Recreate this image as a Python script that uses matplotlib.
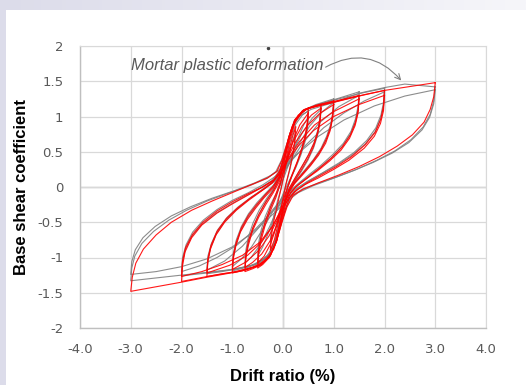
import numpy as np
import matplotlib
matplotlib.use("Agg")
import matplotlib.pyplot as plt
from matplotlib.patches import Rectangle

# ─── DATA (drift ratio %, base shear coefficient) ─────────────────────────────
xticks = [-4, -3, -2, -1, 0, 1, 2, 3, 4]
xtick_labels = ['-4.0', '-3.0', '-2.0', '-1.0', '0.0', '1.0', '2.0', '3.0', '4.0']
yticks = [2, 1.5, 1, 0.5, 0, -0.5, -1, -1.5, -2]
ytick_labels = ['2', '1.5', '1', '0.5', '0', '-0.5', '-1', '-1.5', '-2']

# experiment (grey), first cycle at each drift level
grey_3p0 = [(3.00, 1.42), (2.97, 1.22), (2.90, 1.03), (2.76, 0.85), (2.52, 0.67), (2.20, 0.51),
            (1.85, 0.38), (1.45, 0.25), (1.05, 0.14), (0.68, 0.05), (0.38, -0.03), (0.18, -0.12),
            (0.06, -0.30), (-0.04, -0.52), (-0.15, -0.78), (-0.30, -0.98), (-0.55, -1.10),
            (-1.00, -1.17), (-1.50, -1.21), (-2.00, -1.25), (-3.00, -1.33), (-2.98, -1.15),
            (-2.92, -0.98), (-2.78, -0.80), (-2.55, -0.63), (-2.25, -0.47), (-1.90, -0.33),
            (-1.50, -0.20), (-1.05, -0.08), (-0.62, 0.03), (-0.32, 0.12), (-0.14, 0.22),
            (-0.03, 0.38), (0.07, 0.60), (0.18, 0.84), (0.32, 1.00), (0.55, 1.10), (1.00, 1.20),
            (1.50, 1.33), (2.00, 1.41), (2.40, 1.46), (3.00, 1.42)]
grey_2p0 = [(2.00, 1.40), (1.98, 1.20), (1.93, 1.02), (1.83, 0.84), (1.65, 0.66), (1.40, 0.49),
            (1.10, 0.34), (0.80, 0.21), (0.52, 0.09), (0.30, -0.01), (0.15, -0.12), (0.04, -0.32),
            (-0.06, -0.58), (-0.18, -0.84), (-0.36, -1.02), (-0.65, -1.12), (-1.00, -1.17),
            (-1.50, -1.22), (-2.00, -1.26), (-1.98, -1.06), (-1.92, -0.88), (-1.80, -0.70),
            (-1.60, -0.53), (-1.32, -0.37), (-1.02, -0.24), (-0.72, -0.12), (-0.44, -0.01),
            (-0.22, 0.09), (-0.07, 0.23), (0.04, 0.47), (0.14, 0.76), (0.26, 0.97), (0.45, 1.10),
            (0.80, 1.19), (1.20, 1.27), (1.60, 1.34), (2.00, 1.40)]
grey_1p5 = [(1.50, 1.35), (1.48, 1.15), (1.43, 0.97), (1.34, 0.79), (1.19, 0.62), (0.98, 0.46),
            (0.75, 0.31), (0.52, 0.18), (0.32, 0.06), (0.16, -0.06), (0.05, -0.24), (-0.05, -0.50),
            (-0.15, -0.78), (-0.30, -0.98), (-0.55, -1.10), (-0.90, -1.16), (-1.20, -1.20),
            (-1.50, -1.23), (-1.48, -1.03), (-1.42, -0.85), (-1.31, -0.66), (-1.14, -0.48),
            (-0.92, -0.32), (-0.68, -0.18), (-0.44, -0.05), (-0.23, 0.06), (-0.09, 0.19),
            (0.02, 0.43), (0.12, 0.72), (0.24, 0.95), (0.42, 1.09), (0.75, 1.18), (1.10, 1.26),
            (1.50, 1.35)]
grey_1p0 = [(1.00, 1.25), (0.98, 1.06), (0.94, 0.89), (0.86, 0.72), (0.75, 0.55), (0.60, 0.39),
            (0.44, 0.25), (0.28, 0.11), (0.15, -0.02), (0.05, -0.20), (-0.04, -0.45), (-0.13, -0.73),
            (-0.27, -0.95), (-0.48, -1.08), (-0.72, -1.14), (-1.00, -1.19), (-0.98, -1.00),
            (-0.93, -0.82), (-0.84, -0.63), (-0.71, -0.45), (-0.55, -0.29), (-0.38, -0.14),
            (-0.21, 0.00), (-0.08, 0.16), (0.02, 0.41), (0.11, 0.70), (0.22, 0.94), (0.40, 1.09),
            (0.65, 1.17), (1.00, 1.25)]
grey_0p75 = [(0.75, 1.18), (0.73, 0.99), (0.69, 0.82), (0.62, 0.64), (0.51, 0.47), (0.39, 0.31),
             (0.26, 0.15), (0.14, 0.00), (0.04, -0.20), (-0.05, -0.46), (-0.14, -0.74), (-0.27, -0.95),
             (-0.45, -1.07), (-0.62, -1.12), (-0.75, -1.15), (-0.73, -0.96), (-0.68, -0.78),
             (-0.60, -0.59), (-0.49, -0.41), (-0.36, -0.24), (-0.22, -0.08), (-0.09, 0.09),
             (0.02, 0.36), (0.11, 0.66), (0.22, 0.92), (0.38, 1.07), (0.55, 1.13), (0.75, 1.18)]
grey_0p5 = [(0.50, 1.08), (0.48, 0.89), (0.44, 0.71), (0.37, 0.52), (0.28, 0.34), (0.18, 0.16),
            (0.09, -0.02), (0.01, -0.24), (-0.08, -0.52), (-0.17, -0.80), (-0.29, -0.97),
            (-0.41, -1.03), (-0.50, -1.06), (-0.48, -0.87), (-0.43, -0.68), (-0.35, -0.49),
            (-0.25, -0.30), (-0.14, -0.12), (-0.04, 0.07), (0.05, 0.33), (0.14, 0.64), (0.25, 0.89),
            (0.38, 1.02), (0.50, 1.08)]
grey_0p25 = [(0.25, 0.78), (0.23, 0.60), (0.19, 0.42), (0.13, 0.23), (0.06, 0.04), (-0.02, -0.18),
             (-0.10, -0.45), (-0.18, -0.66), (-0.25, -0.78), (-0.23, -0.60), (-0.18, -0.40),
             (-0.11, -0.20), (-0.03, 0.00), (0.04, 0.22), (0.12, 0.46), (0.19, 0.66), (0.25, 0.78)]

# experiment (grey), repeated cycles
grey_3p0_b = [(3.00, 1.38), (2.97, 1.18), (2.89, 0.99), (2.74, 0.81), (2.48, 0.63), (2.15, 0.48),
              (1.78, 0.35), (1.38, 0.23), (0.98, 0.12), (0.60, 0.02), (0.30, -0.08), (0.05, -0.22),
              (-0.25, -0.42), (-0.60, -0.65), (-1.00, -0.85), (-1.50, -1.02), (-2.00, -1.13),
              (-2.50, -1.20), (-3.00, -1.24), (-2.98, -1.06), (-2.91, -0.89), (-2.76, -0.72),
              (-2.52, -0.56), (-2.20, -0.41), (-1.82, -0.28), (-1.40, -0.16), (-0.95, -0.05),
              (-0.55, 0.06), (-0.25, 0.16), (0.00, 0.28), (0.30, 0.48), (0.70, 0.72), (1.20, 0.95),
              (1.80, 1.15), (2.40, 1.29), (3.00, 1.38)]
grey_2p0_b = [(2.00, 1.35), (1.98, 1.14), (1.92, 0.96), (1.81, 0.78), (1.62, 0.61), (1.36, 0.45),
              (1.06, 0.31), (0.76, 0.19), (0.48, 0.08), (0.25, -0.03), (0.02, -0.18), (-0.25, -0.38),
              (-0.55, -0.60), (-0.90, -0.82), (-1.30, -1.00), (-1.65, -1.12), (-2.00, -1.20),
              (-1.98, -1.00), (-1.91, -0.82), (-1.78, -0.64), (-1.57, -0.47), (-1.30, -0.32),
              (-1.00, -0.19), (-0.68, -0.08), (-0.40, 0.03), (-0.15, 0.15), (0.10, 0.32),
              (0.40, 0.56), (0.80, 0.84), (1.20, 1.05), (1.60, 1.22), (2.00, 1.35)]
grey_1p5_b = [(1.50, 1.30), (1.48, 1.10), (1.42, 0.92), (1.32, 0.74), (1.16, 0.57), (0.95, 0.41),
              (0.72, 0.27), (0.48, 0.14), (0.27, 0.03), (0.05, -0.12), (-0.20, -0.32), (-0.48, -0.58),
              (-0.80, -0.84), (-1.15, -1.05), (-1.50, -1.18), (-1.48, -0.98), (-1.41, -0.80),
              (-1.29, -0.61), (-1.10, -0.43), (-0.88, -0.28), (-0.62, -0.14), (-0.38, -0.03),
              (-0.15, 0.09), (0.08, 0.28), (0.35, 0.58), (0.70, 0.90), (1.10, 1.14), (1.50, 1.30)]
grey_1p0_b = [(1.00, 1.20), (0.98, 1.01), (0.93, 0.83), (0.84, 0.65), (0.71, 0.48), (0.55, 0.32),
              (0.38, 0.18), (0.21, 0.05), (0.03, -0.10), (-0.18, -0.32), (-0.40, -0.60),
              (-0.62, -0.85), (-0.82, -1.02), (-1.00, -1.13), (-0.98, -0.94), (-0.92, -0.75),
              (-0.82, -0.56), (-0.68, -0.38), (-0.51, -0.22), (-0.33, -0.08), (-0.14, 0.06),
              (0.06, 0.26), (0.28, 0.56), (0.52, 0.86), (0.76, 1.06), (1.00, 1.20)]
grey_0p75_b = [(0.75, 1.10), (0.73, 0.91), (0.68, 0.73), (0.60, 0.55), (0.49, 0.38), (0.36, 0.22),
               (0.22, 0.07), (0.06, -0.10), (-0.10, -0.30), (-0.27, -0.57), (-0.45, -0.82),
               (-0.62, -0.99), (-0.75, -1.08), (-0.73, -0.89), (-0.68, -0.70), (-0.59, -0.51),
               (-0.47, -0.33), (-0.32, -0.16), (-0.16, 0.00), (0.00, 0.20), (0.18, 0.48),
               (0.38, 0.77), (0.58, 0.98), (0.75, 1.10)]
grey_0p5_b = [(0.50, 1.00), (0.48, 0.81), (0.43, 0.63), (0.35, 0.45), (0.25, 0.27), (0.13, 0.10),
              (0.00, -0.10), (-0.13, -0.34), (-0.27, -0.62), (-0.40, -0.85), (-0.50, -0.98),
              (-0.48, -0.79), (-0.43, -0.61), (-0.35, -0.42), (-0.24, -0.24), (-0.11, -0.06),
              (0.02, 0.14), (0.16, 0.42), (0.30, 0.70), (0.42, 0.90), (0.50, 1.00)]

# model (red), first cycle at each drift level
red_3p0 = [(3.00, 1.48), (2.97, 1.28), (2.90, 1.10), (2.78, 0.92), (2.55, 0.74), (2.25, 0.58),
           (1.90, 0.43), (1.50, 0.29), (1.10, 0.17), (0.70, 0.06), (0.40, -0.03), (0.20, -0.12),
           (0.08, -0.28), (-0.02, -0.50), (-0.12, -0.75), (-0.25, -0.97), (-0.45, -1.10),
           (-0.80, -1.19), (-1.50, -1.28), (-2.00, -1.35), (-3.00, -1.48), (-2.97, -1.28),
           (-2.90, -1.08), (-2.75, -0.88), (-2.50, -0.68), (-2.20, -0.50), (-1.80, -0.33),
           (-1.40, -0.20), (-1.00, -0.08), (-0.60, 0.04), (-0.30, 0.13), (-0.12, 0.22),
           (-0.02, 0.38), (0.08, 0.62), (0.18, 0.86), (0.30, 1.02), (0.50, 1.12), (1.00, 1.20),
           (1.50, 1.29), (2.00, 1.37), (3.00, 1.48)]
red_2p0 = [(2.00, 1.37), (1.98, 1.15), (1.93, 0.97), (1.82, 0.78), (1.62, 0.60), (1.35, 0.43),
           (1.05, 0.29), (0.75, 0.17), (0.48, 0.06), (0.28, -0.04), (0.13, -0.15), (0.03, -0.35),
           (-0.07, -0.62), (-0.18, -0.88), (-0.35, -1.05), (-0.60, -1.14), (-1.00, -1.21),
           (-1.50, -1.27), (-2.00, -1.34), (-1.98, -1.12), (-1.93, -0.92), (-1.80, -0.72),
           (-1.60, -0.54), (-1.30, -0.37), (-1.00, -0.24), (-0.70, -0.12), (-0.40, 0.00),
           (-0.18, 0.10), (-0.05, 0.25), (0.05, 0.50), (0.15, 0.78), (0.27, 0.98), (0.45, 1.10),
           (0.80, 1.17), (1.20, 1.24), (1.60, 1.31), (2.00, 1.37)]
red_1p5 = [(1.50, 1.30), (1.48, 1.10), (1.43, 0.92), (1.33, 0.74), (1.17, 0.57), (0.95, 0.41),
           (0.72, 0.27), (0.50, 0.14), (0.30, 0.03), (0.15, -0.08), (0.05, -0.25), (-0.04, -0.50),
           (-0.13, -0.78), (-0.27, -0.98), (-0.50, -1.12), (-0.90, -1.20), (-1.20, -1.23),
           (-1.50, -1.27), (-1.48, -1.06), (-1.43, -0.88), (-1.32, -0.68), (-1.15, -0.50),
           (-0.92, -0.33), (-0.68, -0.19), (-0.43, -0.06), (-0.22, 0.05), (-0.08, 0.18),
           (0.02, 0.42), (0.12, 0.72), (0.24, 0.96), (0.42, 1.10), (0.75, 1.17), (1.10, 1.23),
           (1.50, 1.30)]
red_1p0 = [(1.00, 1.22), (0.98, 1.03), (0.94, 0.86), (0.86, 0.69), (0.74, 0.52), (0.58, 0.36),
           (0.42, 0.22), (0.26, 0.09), (0.13, -0.04), (0.04, -0.22), (-0.04, -0.48), (-0.12, -0.76),
           (-0.25, -0.98), (-0.45, -1.11), (-0.70, -1.17), (-1.00, -1.22), (-0.98, -1.02),
           (-0.93, -0.84), (-0.84, -0.64), (-0.70, -0.46), (-0.54, -0.30), (-0.37, -0.15),
           (-0.20, -0.02), (-0.07, 0.14), (0.03, 0.40), (0.12, 0.70), (0.23, 0.95), (0.40, 1.09),
           (0.65, 1.16), (1.00, 1.22)]
red_0p75 = [(0.75, 1.17), (0.73, 0.98), (0.69, 0.80), (0.61, 0.62), (0.50, 0.45), (0.37, 0.29),
            (0.24, 0.13), (0.12, -0.02), (0.03, -0.22), (-0.05, -0.48), (-0.13, -0.76), (-0.25, -0.97),
            (-0.42, -1.10), (-0.60, -1.16), (-0.75, -1.20), (-0.73, -1.00), (-0.68, -0.82),
            (-0.60, -0.62), (-0.48, -0.43), (-0.34, -0.25), (-0.20, -0.09), (-0.07, 0.08),
            (0.03, 0.36), (0.12, 0.67), (0.23, 0.93), (0.38, 1.08), (0.55, 1.13), (0.75, 1.17)]
red_0p5 = [(0.50, 1.12), (0.48, 0.93), (0.44, 0.74), (0.37, 0.55), (0.28, 0.36), (0.18, 0.18),
           (0.09, 0.00), (0.02, -0.22), (-0.06, -0.50), (-0.15, -0.80), (-0.27, -1.00), (-0.40, -1.10),
           (-0.50, -1.15), (-0.48, -0.95), (-0.43, -0.75), (-0.35, -0.54), (-0.25, -0.34),
           (-0.14, -0.15), (-0.05, 0.05), (0.04, 0.32), (0.13, 0.65), (0.24, 0.92), (0.38, 1.06),
           (0.50, 1.12)]
red_0p25 = [(0.25, 0.85), (0.23, 0.65), (0.19, 0.45), (0.13, 0.25), (0.06, 0.05), (-0.01, -0.20),
            (-0.09, -0.50), (-0.17, -0.75), (-0.25, -0.90), (-0.23, -0.70), (-0.18, -0.48),
            (-0.11, -0.25), (-0.04, -0.03), (0.03, 0.22), (0.11, 0.50), (0.19, 0.72), (0.25, 0.85)]

# model (red), repeated cycles
red_2p0_b = [(2.00, 1.30), (1.98, 1.08), (1.92, 0.90), (1.80, 0.72), (1.60, 0.55), (1.30, 0.38),
             (1.00, 0.25), (0.70, 0.13), (0.42, 0.03), (0.22, -0.07), (0.08, -0.20), (-0.05, -0.35),
             (-0.20, -0.55), (-0.45, -0.78), (-0.80, -0.97), (-1.20, -1.10), (-1.60, -1.20),
             (-2.00, -1.27), (-1.98, -1.05), (-1.92, -0.86), (-1.78, -0.67), (-1.58, -0.50),
             (-1.30, -0.34), (-1.00, -0.21), (-0.70, -0.10), (-0.40, 0.00), (-0.18, 0.10),
             (-0.05, 0.20), (0.10, 0.38), (0.30, 0.58), (0.60, 0.80), (1.00, 1.00), (1.50, 1.17),
             (2.00, 1.30)]
red_1p5_b = [(1.50, 1.25), (1.48, 1.05), (1.42, 0.87), (1.31, 0.69), (1.14, 0.52), (0.92, 0.37),
             (0.68, 0.23), (0.45, 0.11), (0.25, 0.00), (0.10, -0.13), (-0.04, -0.32), (-0.20, -0.55),
             (-0.42, -0.78), (-0.70, -0.97), (-1.05, -1.11), (-1.50, -1.22), (-1.48, -1.02),
             (-1.42, -0.83), (-1.30, -0.63), (-1.12, -0.45), (-0.90, -0.30), (-0.65, -0.16),
             (-0.40, -0.04), (-0.20, 0.07), (-0.05, 0.20), (0.10, 0.40), (0.32, 0.64), (0.62, 0.88),
             (1.00, 1.07), (1.50, 1.25)]
red_1p0_b = [(1.00, 1.17), (0.98, 0.98), (0.93, 0.80), (0.84, 0.62), (0.70, 0.45), (0.54, 0.30),
             (0.37, 0.16), (0.22, 0.04), (0.10, -0.10), (0.00, -0.28), (-0.12, -0.48), (-0.28, -0.70),
             (-0.48, -0.90), (-0.72, -1.06), (-1.00, -1.17), (-0.98, -0.97), (-0.92, -0.78),
             (-0.82, -0.58), (-0.68, -0.40), (-0.52, -0.25), (-0.35, -0.11), (-0.18, 0.02),
             (-0.05, 0.18), (0.08, 0.40), (0.25, 0.64), (0.48, 0.87), (0.72, 1.04), (1.00, 1.17)]
red_0p75_b = [(0.75, 1.12), (0.73, 0.93), (0.68, 0.75), (0.60, 0.57), (0.49, 0.40), (0.36, 0.24),
              (0.22, 0.08), (0.10, -0.08), (0.00, -0.28), (-0.11, -0.52), (-0.25, -0.76),
              (-0.42, -0.95), (-0.60, -1.07), (-0.75, -1.14), (-0.73, -0.95), (-0.68, -0.76),
              (-0.59, -0.57), (-0.47, -0.38), (-0.33, -0.20), (-0.18, -0.04), (-0.06, 0.14),
              (0.06, 0.38), (0.20, 0.64), (0.38, 0.87), (0.56, 1.02), (0.75, 1.12)]
red_0p5_b = [(0.50, 1.05), (0.48, 0.86), (0.43, 0.67), (0.35, 0.48), (0.25, 0.29), (0.15, 0.11),
             (0.05, -0.08), (-0.04, -0.30), (-0.13, -0.56), (-0.24, -0.80), (-0.37, -0.98),
             (-0.50, -1.08), (-0.48, -0.89), (-0.43, -0.69), (-0.35, -0.49), (-0.25, -0.29),
             (-0.14, -0.10), (-0.04, 0.10), (0.07, 0.36), (0.19, 0.64), (0.33, 0.88), (0.50, 1.05)]

grey_loops = [grey_0p25, grey_0p5, grey_0p5_b, grey_0p75, grey_0p75_b, grey_1p0, grey_1p0_b,
              grey_1p5, grey_1p5_b, grey_2p0, grey_2p0_b, grey_3p0, grey_3p0_b]
red_loops = [red_0p25, red_0p5, red_0p5_b, red_0p75, red_0p75_b, red_1p0, red_1p0_b,
             red_1p5, red_1p5_b, red_2p0, red_2p0_b, red_3p0]

GREY = '#808080'
RED = '#ff0000'
GRID = '#d9d9d9'
AXIS = '#bfbfbf'
TEXT = '#595959'

fig = plt.figure(figsize=(5.26, 3.85), dpi=100)
fig.patch.set_facecolor('white')

# slide-style backdrop: lavender strip on the left, fading strip on top
fig.patches.append(Rectangle((0, 0), 6 / 526, 1, transform=fig.transFigure,
                             facecolor='#dcdcea', edgecolor='none', zorder=0))
bg = fig.add_axes([0, 1 - 10 / 385, 1, 10 / 385])
grad = np.linspace(0, 1, 256)
c0 = np.array([220, 220, 234]) / 255
c1 = np.array([246, 246, 250]) / 255
bg.imshow((c0[None, :] * (1 - grad[:, None]) + c1[None, :] * grad[:, None])[None, :, :],
          aspect='auto', extent=[0, 1, 0, 1])
bg.set_axis_off()

ax = fig.add_axes([80 / 526, 57 / 385, 406 / 526, 282 / 385])
ax.set_xlim(-4, 4)
ax.set_ylim(-2, 2)
ax.set_xticks(xticks)
ax.set_xticklabels(xtick_labels)
ax.set_yticks(yticks)
ax.set_yticklabels(ytick_labels)
ax.tick_params(length=0, colors=TEXT, labelsize=9.5)
ax.tick_params(axis='x', pad=11)
ax.tick_params(axis='y', pad=12)
ax.grid(True, color=GRID, lw=0.9)
ax.set_axisbelow(True)
for s in ['top', 'right']:
    ax.spines[s].set_color(GRID)
for s in ['left', 'bottom']:
    ax.spines[s].set_color(AXIS)
    ax.spines[s].set_linewidth(1.0)
ax.axhline(0, color=AXIS, lw=1.0, zorder=0.5)
ax.axvline(0, color=AXIS, lw=1.0, zorder=0.5)

for loop in grey_loops:
    d, v = zip(*loop)
    ax.plot(d, v, color=GREY, lw=0.8, alpha=0.9, zorder=2)
for loop in red_loops:
    d, v = zip(*loop)
    ax.plot(d, v, color=RED, lw=0.8, alpha=0.9, zorder=3)

ax.text(-2.99, 1.72, 'Mortar plastic deformation', fontsize=12, style='italic',
        color=TEXT, va='center', ha='left', family='Liberation Sans')
ax.annotate('', xy=(2.33, 1.51), xytext=(0.84, 1.70),
            arrowprops=dict(arrowstyle='->', color=GREY, lw=0.8,
                            connectionstyle='arc3,rad=-0.4', shrinkA=0, shrinkB=0))
ax.plot([-0.3], [1.97], marker='o', ms=1.5, color='#404040', clip_on=False)

ax.set_xlabel('Drift ratio (%)', fontsize=12, fontweight='bold', color='black',
              family='Liberation Sans', labelpad=9)
ax.set_ylabel('Base shear coefficient', fontsize=12, fontweight='bold', color='black',
              family='Liberation Sans', labelpad=6)

fig.savefig('out.png', dpi=100)
